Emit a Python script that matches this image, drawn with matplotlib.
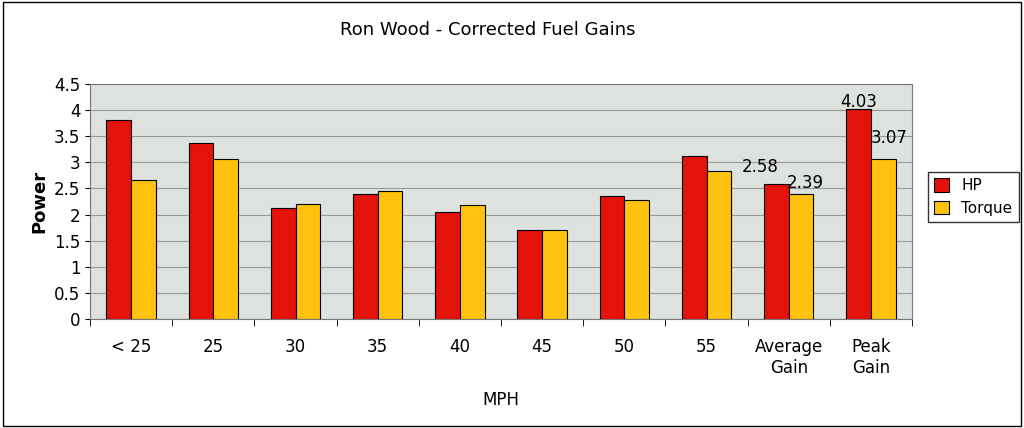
import matplotlib.pyplot as plt
import numpy as np

categories = ["< 25", "25", "30", "35", "40", "45", "50", "55", "Average\nGain", "Peak\nGain"]
hp = [3.81, 3.37, 2.13, 2.39, 2.05, 1.70, 2.36, 3.12, 2.58, 4.03]
torque = [2.66, 3.06, 2.20, 2.45, 2.18, 1.70, 2.28, 2.84, 2.39, 3.07]

fig = plt.figure(figsize=(10.24, 4.28), dpi=100)
ax = fig.add_axes([90/1024, 1-319/428, 822/1024, 235/428])
ax.set_facecolor("#dde2de")

x = np.arange(len(categories))
w = 0.3
b1 = ax.bar(x - w/2, hp, w, color="#e3120b", edgecolor="black", linewidth=0.8, label="HP", zorder=3)
b2 = ax.bar(x + w/2, torque, w, color="#ffc20e", edgecolor="black", linewidth=0.8, label="Torque", zorder=3)

# value labels on the last two groups
ax.text(x[8] - w/2 - 0.2, hp[8] + 0.15, "%.2f" % hp[8], ha="center", va="bottom", fontsize=12)
ax.text(x[8] + w/2 + 0.05, torque[8] + 0.05, "%.2f" % torque[8], ha="center", va="bottom", fontsize=12)
ax.text(x[9] - w/2, hp[9] - 0.05, "%.2f" % hp[9], ha="center", va="bottom", fontsize=12)
ax.text(x[9] + w/2 + 0.07, torque[9] + 0.22, "%.2f" % torque[9], ha="center", va="bottom", fontsize=12)

ax.set_xlim(-0.5, len(categories) - 0.5)
ax.set_ylim(0, 4.5)
ax.set_yticks(np.arange(0, 4.51, 0.5))
ax.set_yticklabels(["0", "0.5", "1", "1.5", "2", "2.5", "3", "3.5", "4", "4.5"], fontsize=12)
ax.set_xticks(x)
ax.set_xticklabels(categories, fontsize=12)
ax.set_xticks(np.arange(-0.5, len(categories), 1), minor=True)
ax.tick_params(axis="x", which="major", length=0, pad=14)
ax.tick_params(axis="x", which="minor", length=5)
ax.grid(axis="y", color="#999999", linewidth=0.8, zorder=0)
for s in ax.spines.values():
    s.set_color("#777777")

ax.set_ylabel("Power", fontsize=13, fontweight="bold")
ax.set_xlabel("MPH", fontsize=12, labelpad=10)
fig.text(488/1024, 1-30/428, "Ron Wood - Corrected Fuel Gains", ha="center", va="center", fontsize=13)

ax.legend(loc="center left", bbox_to_anchor=(1.01, 0.52), fontsize=11, frameon=True,
          fancybox=False, edgecolor="black", handlelength=1, handleheight=1)

fig.patches.append(plt.Rectangle((0.003, 0.005), 0.994, 0.99, transform=fig.transFigure,
                                 fill=False, edgecolor="black", linewidth=1))
fig.savefig("out.png", dpi=100)
